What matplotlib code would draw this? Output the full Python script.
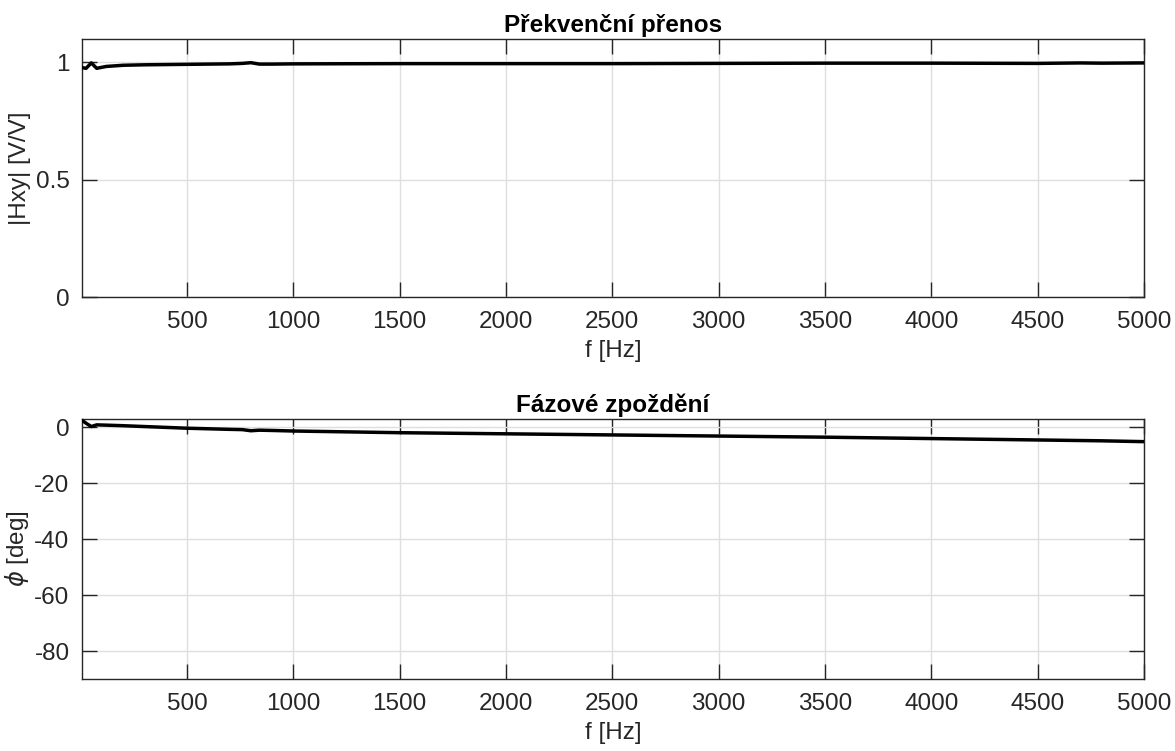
import numpy as np
import matplotlib
matplotlib.use("Agg")
import matplotlib.pyplot as plt

plt.rcParams['font.family'] = ['Liberation Sans', 'DejaVu Sans']

# frequency samples (Hz)
freq = [6, 25, 50, 75, 120, 200, 300, 400, 500, 600, 700, 760, 800, 840, 900,
        1000, 1500, 2000, 2500, 3000, 3500, 4000, 4500, 4700, 4800, 5000]
# magnitude |Hxy| (V/V)
mag = [0.978, 0.975, 0.998, 0.975, 0.983, 0.988, 0.99, 0.991, 0.992, 0.993,
       0.994, 0.996, 0.999, 0.993, 0.993, 0.994, 0.995, 0.995, 0.995, 0.996, 0.997, 0.997, 0.996,
       0.998, 0.997, 0.998]
# phase (deg)
phase = [2.5, 1.5, 0.3, 0.9, 0.8, 0.6, 0.3, 0.0, -0.3, -0.5, -0.7, -0.8, -1.2,
         -1.0, -1.1, -1.3, -1.9, -2.3, -2.7, -3.1, -3.5, -4.0, -4.5, -4.7, -4.8, -5.1]

xticks = [500, 1000, 1500, 2000, 2500, 3000, 3500, 4000, 4500, 5000]
mag_yticks = [0, 0.5, 1]
phase_yticks = [-80, -60, -40, -20, 0]

axc = '#262626'
fig = plt.figure(figsize=(11.75, 7.51), dpi=100)
W, H = 1175, 751
ax1 = fig.add_axes([82 / W, 1 - 297 / H, (1144 - 82) / W, (297 - 39) / H])
ax2 = fig.add_axes([82 / W, 1 - 679 / H, (1144 - 82) / W, (679 - 419) / H])

fs = 17.5
for ax, y, yt, ylim, ylabel, title in [
        (ax1, mag, mag_yticks, (0, 1.1), '|Hxy| [V/V]', 'Překvenční přenos'),
        (ax2, phase, phase_yticks, (-90, 3), r'$\phi$ [deg]', 'Fázové zpoždění')]:
    ax.plot(freq, y, color='black', lw=2.5, zorder=3)
    ax.set_xlim(6, 5000)
    ax.set_ylim(*ylim)
    ax.set_xticks(xticks)
    ax.set_yticks(yt)
    ax.set_yticklabels([('%g' % v) for v in yt])
    ax.grid(True, color='#dfdfdf', lw=1)
    ax.set_axisbelow(True)
    ax.tick_params(direction='in', length=11, width=1, colors=axc, labelsize=fs,
                   top=True, right=True, labelcolor=axc)
    ax.tick_params(axis='x', pad=10)
    ax.tick_params(axis='y', pad=9)
    for s in ax.spines.values():
        s.set_color(axc)
        s.set_linewidth(1)
    ax.set_xlabel('f [Hz]', fontsize=fs, color=axc, labelpad=5)
    ax.set_ylabel(ylabel, fontsize=fs, color=axc)
    ax.yaxis.set_label_coords((31 - 82) / 1062, 0.5)
    ax.set_title(title, fontsize=fs, fontweight='bold', color='black', pad=5)

fig.savefig('out.png', dpi=100)
